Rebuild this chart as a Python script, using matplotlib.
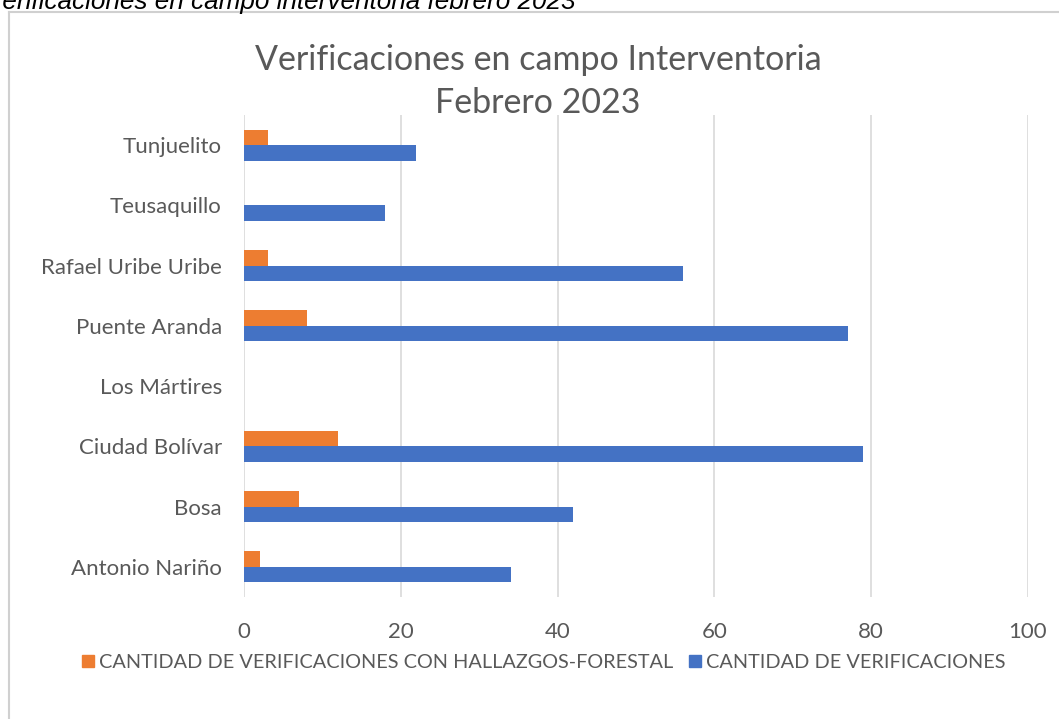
import numpy as np
import matplotlib.pyplot as plt
from matplotlib.lines import Line2D

# datos
localidades = ['Antonio Nariño', 'Bosa', 'Ciudad Bolívar', 'Los Mártires',
               'Puente Aranda', 'Rafael Uribe Uribe', 'Teusaquillo', 'Tunjuelito']
verificaciones = [34, 42, 79, 0, 77, 56, 18, 22]
hallazgos = [2, 7, 12, 0, 8, 3, 0, 3]
ticks_x = [0, 20, 40, 60, 80, 100]

azul = '#4472C4'
naranja = '#ED7D31'
gris = '#595959'

plt.rcParams['font.family'] = ['Lato', 'DejaVu Sans']

fig = plt.figure(figsize=(10.59, 7.19), dpi=100)
ax = fig.add_axes([0.2304, 0.1697, 0.7403, 0.6704])

y = np.arange(len(localidades))
bh = 0.257
ax.barh(y - bh / 2, verificaciones, height=bh, color=azul,
        label='CANTIDAD DE VERIFICACIONES', zorder=3)
ax.barh(y + bh / 2, hallazgos, height=bh, color=naranja,
        label='CANTIDAD DE VERIFICACIONES CON HALLAZGOS-FORESTAL', zorder=3)

ax.set_xlim(0, 100)
ax.set_ylim(-0.5, len(localidades) - 0.5)
ax.set_xticks(ticks_x)
ax.set_yticks(y)
ax.set_yticklabels(localidades)
ax.tick_params(axis='both', length=0, labelsize=16, labelcolor=gris)
ax.tick_params(axis='y', pad=16)
ax.tick_params(axis='x', pad=18)
ax.grid(axis='x', color='#d9d9d9', linewidth=1.2, zorder=0)
for s in ax.spines.values():
    s.set_visible(False)

fig.text(0.508, 0.887, 'Verificaciones en campo Interventoria\nFebrero 2023',
         ha='center', va='center', fontsize=24.5, color=gris, linespacing=1.42)

# leyenda (naranja primero)
handles = [Line2D([], [], marker='s', linestyle='none', markersize=9, color=naranja),
           Line2D([], [], marker='s', linestyle='none', markersize=9, color=azul)]
fig.legend(handles, ['CANTIDAD DE VERIFICACIONES CON HALLAZGOS-FORESTAL',
                     'CANTIDAD DE VERIFICACIONES'],
           loc='center', bbox_to_anchor=(0.512, 0.079), ncol=2, frameon=False,
           fontsize=14.3, labelcolor=gris, handletextpad=0.05, columnspacing=0.6,
           handlelength=1.0)

# marco del grafico
fig.add_artist(Line2D([9 / 1059, 9 / 1059], [0, 1 - 12 / 719], color='#d0d0d0', lw=1.5,
                      transform=fig.transFigure))
fig.add_artist(Line2D([9 / 1059, 1.0], [1 - 12 / 719, 1 - 12 / 719], color='#d0d0d0', lw=1.5,
                      transform=fig.transFigure))

# pie de figura cortado arriba
fig.text(-14 / 1059, 1 - 9 / 719, 'Verificaciones en campo interventoria febrero 2023',
         ha='left', va='baseline', fontsize=18.8, style='italic',
         family=['Liberation Sans', 'DejaVu Sans'], color='black')

fig.savefig('out.png', dpi=100)
